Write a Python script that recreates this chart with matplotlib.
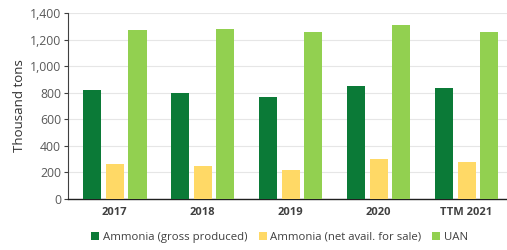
import numpy as np
import matplotlib
matplotlib.use('Agg')
import matplotlib.pyplot as plt
from matplotlib.ticker import FuncFormatter

plt.rcParams['font.family'] = ['Open Sans', 'DejaVu Sans']

# data (thousand tons)
years = ['2017', '2018', '2019', '2020', 'TTM 2021']
gross = [818, 795, 768, 853, 833]
net_sale = [266, 246, 221, 304, 281]
uan = [1269, 1279, 1257, 1307, 1257]

labels = ['Ammonia (gross produced)', 'Ammonia (net avail. for sale)', 'UAN']
colors = ['#0b7a37', '#ffd966', '#92d050']

fig = plt.figure(figsize=(5.07, 2.50), dpi=100)
ax = fig.add_axes([68/507, 1 - 199/250, 439/507, 186/250])

x = np.arange(len(years))
w = 0.205
step = 0.26
for i, (vals, lab, col) in enumerate(zip([gross, net_sale, uan], labels, colors)):
    ax.bar(x + (i - 1) * step, vals, width=w, color=col, label=lab, zorder=3)

ax.set_ylim(0, 1400)
ax.set_xlim(-0.53, 4.46)
ax.set_yticks(range(0, 1401, 200))
ax.yaxis.set_major_formatter(FuncFormatter(lambda v, p: f'{int(v):,}'))
ax.grid(axis='y', color='#e6e6e6', linewidth=0.8, zorder=0)

for s in ['top', 'right']:
    ax.spines[s].set_visible(False)
ax.spines['left'].set_color('#404040')
ax.spines['left'].set_linewidth(0.8)
ax.spines['bottom'].set_color('#202020')
ax.spines['bottom'].set_linewidth(1.0)

ax.tick_params(axis='y', labelsize=8.8, labelcolor='#595959', length=3, width=0.8,
               color='#404040', pad=2)
ax.tick_params(axis='x', length=0, pad=6)
ax.set_xticks(x)
ax.set_xticklabels(years, fontsize=8, fontweight='bold', color='#404040')
ax.set_ylabel('Thousand tons', fontsize=9.5, color='#303030', labelpad=3)

ax.legend(loc='upper center', bbox_to_anchor=(0.482, -0.12), ncol=3, frameon=False,
          fontsize=8.2, handlelength=0.7, handleheight=0.7, handletextpad=0.3,
          columnspacing=1.0, labelcolor='#404040')

fig.savefig('out.png', dpi=100)
